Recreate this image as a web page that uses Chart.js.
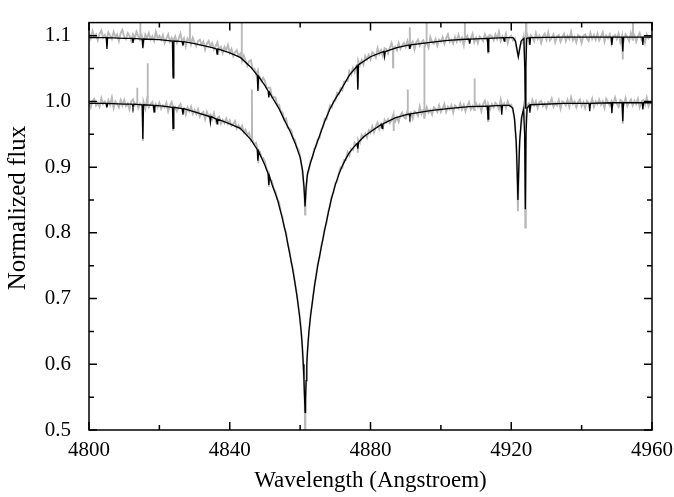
<!DOCTYPE html>
<html>
<head>
<meta charset="utf-8">
<script src="https://cdn.jsdelivr.net/npm/chart.js@4.4.1/dist/chart.umd.min.js"></script>
<style>
  html, body { margin: 0; padding: 0; background: #fff; }
  #wrap { width: 674px; height: 497px; }
</style>
</head>
<body>
<div id="wrap"><canvas id="chart"></canvas></div>
<script>
// axis ticks
const xMajor = [4800, 4840, 4880, 4920, 4960];
const xMinor = [4820, 4860, 4900, 4940];
const yMajor = [0.5, 0.6, 0.7, 0.8, 0.9, 1.0, 1.1];
const yMinor = [0.55, 0.65, 0.75, 0.85, 0.95, 1.05];

// model spectrum, upper (shifted by +0.1)
const upperModelWave = [4800, 4804.9, 4805.1, 4805.3, 4810, 4812.3, 4812.5, 4812.7, 4815.1, 4815.3, 4815.5, 4820,
  4823.7, 4823.9, 4824.1, 4826.5, 4826.7, 4826.9, 4830, 4835, 4836.2, 4836.4, 4836.6, 4840, 4843, 4846,
  4847.8, 4848.0, 4848.2, 4850, 4850.9, 4851.1, 4851.3, 4852, 4854, 4855.5, 4857.2, 4858.7, 4860, 4860.7,
  4861.1, 4861.4, 4861.7, 4862.1, 4862.8, 4864.2, 4865.6, 4867, 4868.5, 4870, 4871.3, 4874, 4876.2, 4876.4,
  4876.6, 4880, 4883.8, 4884.0, 4884.2, 4887.5, 4891.0, 4891.2, 4891.4, 4897, 4902, 4908.0, 4908.2, 4908.4,
  4913.2, 4913.4, 4913.6, 4917.8, 4918.0, 4918.2, 4920.5, 4921.2, 4921.6, 4922.0, 4922.4, 4922.8, 4923.6,
  4923.85, 4924.0, 4924.15, 4924.4, 4925.1, 4925.3, 4925.5, 4935, 4948.4, 4948.6, 4948.8, 4951.5, 4951.7,
  4951.9, 4957.2, 4957.4, 4957.6, 4960];
const upperModelFlux = [1.097, 1.097, 1.080, 1.097, 1.096, 1.096, 1.089, 1.096, 1.095, 1.081, 1.095, 1.094,
  1.092, 1.036, 1.092, 1.091, 1.085, 1.091, 1.088, 1.082, 1.080, 1.072, 1.080, 1.074, 1.067, 1.052,
  1.040, 1.016, 1.038, 1.024, 1.016, 1.006, 1.014, 1.007, 0.989, 0.972, 0.954, 0.935, 0.915, 0.895,
  0.870, 0.840, 0.870, 0.890, 0.904, 0.928, 0.949, 0.970, 0.989, 1.004, 1.015, 1.040, 1.054, 1.018,
  1.056, 1.068, 1.076, 1.068, 1.076, 1.082, 1.086, 1.080, 1.086, 1.090, 1.093, 1.095, 1.088, 1.095,
  1.096, 1.076, 1.096, 1.097, 1.092, 1.097, 1.097, 1.092, 1.080, 1.068, 1.080, 1.092, 1.096,
  1.050, 0.990, 1.050, 1.096, 1.097, 1.086, 1.097, 1.098, 1.098, 1.086, 1.098, 1.098, 1.076,
  1.098, 1.098, 1.086, 1.098, 1.098];

// model spectrum, lower
const lowerModelWave = [4800, 4804.9, 4805.1, 4805.3, 4810, 4812.3, 4812.5, 4812.7, 4815.1, 4815.3, 4815.5,
  4818.3, 4818.5, 4818.7, 4821, 4823.7, 4823.9, 4824.1, 4826.5, 4826.7, 4826.9, 4830, 4834.3, 4834.5, 4834.7,
  4836.2, 4836.4, 4836.6, 4840, 4843, 4846, 4847.8, 4848.0, 4848.2, 4850, 4850.9, 4851.1, 4851.3, 4852,
  4853.6, 4854.8, 4855.9, 4856.8, 4857.7, 4858.5, 4859.2, 4859.8, 4860.3, 4860.65, 4860.9, 4861.1, 4861.25,
  4861.4, 4861.55, 4861.7, 4861.9, 4862.15, 4862.5, 4863.0, 4863.6, 4864.25, 4865.0, 4865.9, 4866.8, 4867.8,
  4868.8, 4870, 4871, 4872, 4873, 4874, 4875, 4876.2, 4876.4, 4876.6, 4878, 4880,
  4883.1, 4883.3, 4883.5, 4887, 4891.0, 4891.2, 4891.4, 4897, 4902, 4908, 4913.2, 4913.4, 4913.6, 4917.1,
  4917.3, 4917.5, 4919.5, 4920.4, 4920.9, 4921.4, 4921.7, 4921.9, 4922.1, 4922.4, 4922.9, 4923.5, 4923.8,
  4924.0, 4924.2, 4924.5, 4925.1, 4925.3, 4925.5, 4935, 4942.1, 4942.3, 4942.5, 4948.4, 4948.6, 4948.8,
  4951.5, 4951.7, 4951.9, 4957.2, 4957.4, 4957.6, 4960];
const lowerModelFlux = [0.997, 0.997, 0.991, 0.997, 0.996, 0.996, 0.991, 0.996, 0.995, 0.943, 0.995,
  0.994, 0.984, 0.994, 0.993, 0.991, 0.959, 0.991, 0.989, 0.980, 0.989, 0.984, 0.977, 0.968, 0.977,
  0.973, 0.966, 0.973, 0.966, 0.959, 0.942, 0.927, 0.910, 0.924, 0.903, 0.890, 0.873, 0.886, 0.874,
  0.850, 0.825, 0.800, 0.775, 0.750, 0.725, 0.700, 0.675, 0.650, 0.625, 0.600, 0.575, 0.550,
  0.527, 0.550, 0.575, 0.600, 0.625, 0.650, 0.675, 0.700, 0.725, 0.750, 0.775, 0.800, 0.825,
  0.850, 0.873, 0.889, 0.902, 0.913, 0.922, 0.929, 0.936, 0.928, 0.938, 0.946, 0.954,
  0.965, 0.959, 0.966, 0.975, 0.981, 0.976, 0.981, 0.986, 0.989, 0.992, 0.993, 0.973, 0.993, 0.994,
  0.980, 0.994, 0.994, 0.990, 0.975, 0.940, 0.890, 0.850, 0.890, 0.940, 0.975, 0.988, 0.950,
  0.836, 0.950, 0.990, 0.994, 0.983, 0.995, 0.997, 0.997, 0.985, 0.997, 0.998, 0.982, 0.998,
  0.998, 0.970, 0.998, 0.998, 0.988, 0.998, 0.998];

// observed spectra, one value every 0.5 Angstroem from 4800 to 4960
const obsUpper = [
  1.104, 1.096, 1.107, 1.098, 1.102, 1.093, 1.103, 1.108, 1.097, 1.101,
  1.094, 1.105, 1.100, 1.095, 1.106, 1.098, 1.102, 1.092, 1.104, 1.109,
  1.098, 1.095, 1.104, 1.100, 1.092, 1.102, 1.096, 1.106, 1.099, 1.094,
  1.100, 1.089, 1.102, 1.097, 1.104, 1.094, 1.099, 1.092, 1.106, 1.096,
  1.100, 1.094, 1.101, 1.089, 1.096, 1.102, 1.091, 1.097, 1.092, 1.099,
  1.089, 1.095, 1.103, 1.090, 1.096, 1.084, 1.096, 1.092, 1.087, 1.097,
  1.090, 1.084, 1.092, 1.094, 1.086, 1.091, 1.079, 1.088, 1.092, 1.084,
  1.089, 1.079, 1.084, 1.090, 1.078, 1.083, 1.074, 1.083, 1.078, 1.086,
  1.074, 1.080, 1.069, 1.075, 1.078, 1.069, 1.073, 1.062, 1.070, 1.062,
  1.054, 1.061, 1.063, 1.050, 1.050, 1.041, 1.047, 1.038, 1.031, 1.036,
  1.031, 1.020, 1.021, 1.021, 1.006, 1.007, 1.006, 0.995, 0.995, 0.985,
  0.983, 0.972, 0.974, 0.960, 0.959, 0.956, 0.944, 0.942, 0.931, 0.927,
  0.917, 0.899, 0.874, 0.845, 0.887, 0.896, 0.910, 0.914, 0.928, 0.931,
  0.943, 0.944, 0.957, 0.961, 0.974, 0.973, 0.984, 0.994, 0.991, 1.001,
  1.001, 1.013, 1.011, 1.020, 1.017, 1.030, 1.031, 1.031, 1.046, 1.041,
  1.051, 1.045, 1.055, 1.062, 1.055, 1.063, 1.056, 1.069, 1.064, 1.071,
  1.064, 1.075, 1.072, 1.067, 1.081, 1.072, 1.078, 1.069, 1.081, 1.080,
  1.073, 1.082, 1.089, 1.079, 1.083, 1.078, 1.089, 1.080, 1.085, 1.089,
  1.083, 1.092, 1.081, 1.087, 1.091, 1.079, 1.090, 1.094, 1.085, 1.090,
  1.093, 1.085, 1.091, 1.082, 1.098, 1.090, 1.088, 1.095, 1.085, 1.094,
  1.091, 1.098, 1.088, 1.096, 1.102, 1.091, 1.094, 1.088, 1.098, 1.091,
  1.101, 1.092, 1.097, 1.086, 1.096, 1.100, 1.091, 1.096, 1.103, 1.090,
  1.097, 1.089, 1.099, 1.096, 1.092, 1.102, 1.095, 1.089, 1.101, 1.099,
  1.093, 1.102, 1.095, 1.106, 1.092, 1.099, 1.094, 1.103, 1.089, 1.098,
  1.100, 1.093, 1.096, 1.081, 1.069, 1.085, 1.089, 1.099, 0.995, 1.102,
  1.091, 1.101, 1.098, 1.092, 1.104, 1.095, 1.100, 1.089, 1.099, 1.103,
  1.094, 1.105, 1.093, 1.097, 1.102, 1.090, 1.099, 1.101, 1.091, 1.098,
  1.103, 1.092, 1.100, 1.095, 1.106, 1.093, 1.098, 1.090, 1.101, 1.099,
  1.089, 1.100, 1.102, 1.096, 1.092, 1.104, 1.095, 1.101, 1.094, 1.103,
  1.093, 1.099, 1.105, 1.091, 1.100, 1.096, 1.102, 1.088, 1.099, 1.101,
  1.095, 1.103, 1.090, 1.100, 1.093, 1.102, 1.098, 1.092, 1.104, 1.094,
  1.101, 1.091, 1.099, 1.104, 1.094, 1.098, 1.089, 1.102, 1.096, 1.100,
  1.098];
const obsLower = [
  0.999, 0.991, 1.001, 1.004, 0.994, 0.998, 0.992, 1.005, 0.996, 1.000,
  0.993, 1.002, 0.995, 1.006, 0.990, 1.000, 0.996, 0.991, 1.002, 0.994,
  1.002, 0.993, 0.997, 0.988, 1.000, 1.003, 0.994, 0.998, 0.990, 0.997,
  0.994, 0.999, 0.989, 1.004, 0.991, 0.996, 0.999, 0.986, 0.996, 0.991,
  0.998, 0.989, 0.994, 0.991, 0.998, 0.985, 0.994, 0.999, 0.987, 0.991,
  0.985, 0.992, 0.996, 0.986, 0.989, 0.980, 0.991, 0.985, 0.992, 0.981,
  0.987, 0.981, 0.988, 0.977, 0.982, 0.984, 0.973, 0.984, 0.977, 0.980,
  0.973, 0.982, 0.970, 0.975, 0.977, 0.966, 0.972, 0.967, 0.974, 0.966,
  0.971, 0.963, 0.966, 0.970, 0.959, 0.964, 0.958, 0.963, 0.953, 0.957,
  0.949, 0.952, 0.941, 0.943, 0.935, 0.937, 0.924, 0.924, 0.915, 0.914,
  0.908, 0.896, 0.893, 0.881, 0.879, 0.867, 0.863, 0.851, 0.847, 0.833,
  0.824, 0.808, 0.801, 0.783, 0.772, 0.754, 0.744, 0.725, 0.710, 0.688,
  0.669, 0.636, 0.585, 0.538, 0.614, 0.648, 0.677, 0.694, 0.718, 0.732,
  0.752, 0.762, 0.781, 0.790, 0.807, 0.815, 0.833, 0.841, 0.856, 0.862,
  0.876, 0.878, 0.891, 0.900, 0.899, 0.911, 0.911, 0.923, 0.918, 0.928,
  0.926, 0.937, 0.933, 0.942, 0.937, 0.949, 0.945, 0.951, 0.945, 0.956,
  0.952, 0.962, 0.953, 0.962, 0.968, 0.958, 0.966, 0.959, 0.972, 0.968,
  0.973, 0.967, 0.972, 0.980, 0.969, 0.976, 0.969, 0.979, 0.983, 0.976,
  0.974, 0.986, 0.979, 0.983, 0.974, 0.985, 0.983, 0.978, 0.992, 0.981,
  0.987, 0.980, 0.991, 0.983, 0.987, 0.980, 0.991, 0.989, 0.984, 0.994,
  0.984, 0.990, 0.996, 0.984, 0.992, 0.988, 0.994, 0.983, 0.994, 0.991,
  0.989, 0.997, 0.988, 0.995, 0.985, 0.993, 0.999, 0.988, 0.993, 0.987,
  0.997, 0.991, 0.995, 0.985, 0.996, 1.001, 0.990, 0.995, 0.988, 0.996,
  0.991, 0.998, 0.995, 0.988, 1.003, 0.992, 0.997, 0.990, 1.000, 0.993,
  0.995, 0.987, 0.971, 0.927, 0.863, 0.947, 0.972, 0.990, 0.808, 0.993,
  0.997, 0.990, 1.002, 0.994, 1.000, 0.990, 0.999, 1.001, 0.993, 0.997,
  0.990, 0.999, 0.996, 1.004, 0.992, 0.998, 0.994, 1.002, 0.989, 1.000,
  0.998, 0.994, 1.002, 0.992, 1.006, 0.996, 1.000, 0.991, 0.999, 1.003,
  0.993, 0.999, 0.990, 1.001, 0.998, 0.995, 1.004, 0.992, 1.000, 0.996,
  1.003, 0.995, 1.000, 0.990, 1.004, 0.999, 0.994, 1.001, 0.996, 1.006,
  0.997, 0.992, 1.002, 1.000, 0.995, 1.005, 0.993, 0.999, 1.003, 0.994,
  1.001, 0.996, 1.004, 0.991, 1.000, 1.002, 0.995, 1.006, 0.993, 0.999,
  1.000];

// spikes, line cores and narrow dips in the observed spectra
const upperExtraWave = [4814.55, 4814.6, 4814.65, 4823.85, 4823.9, 4823.95, 4828.65, 4828.7, 4828.75,
  4843.35, 4843.4, 4843.45, 4848.05, 4848.1, 4848.15, 4861.25, 4861.4, 4876.35, 4876.4, 4876.45,
  4886.35, 4886.4, 4886.45, 4891.15, 4891.2, 4891.25, 4895.85, 4895.9, 4895.95, 4906.75, 4906.8, 4906.85,
  4913.35, 4913.4, 4913.45, 4923.85, 4924.1, 4924.2, 4924.3, 4951.65, 4951.7, 4951.75,
  4954.55, 4954.6, 4954.65];
const upperExtraFlux = [1.097, 1.125, 1.096, 1.093, 1.040, 1.092, 1.095, 1.125, 1.094,
  1.068, 1.125, 1.066, 1.045, 1.018, 1.040, 0.858, 0.828, 1.056, 1.020, 1.055,
  1.081, 1.052, 1.080, 1.085, 1.113, 1.084, 1.090, 1.125, 1.089, 1.097, 1.125, 1.096,
  1.098, 1.074, 1.097, 1.060, 1.060, 1.125, 1.097, 1.097, 1.064, 1.098,
  1.100, 1.122, 1.099];
const lowerExtraWave = [4813.65, 4813.7, 4813.75, 4815.25, 4815.3, 4815.35, 4816.65, 4816.7, 4816.75,
  4823.85, 4823.9, 4823.95, 4846.25, 4846.3, 4846.35, 4848.05, 4848.1, 4848.15, 4851.05, 4851.1, 4851.15,
  4861.3, 4861.4, 4876.35, 4876.4, 4876.45, 4886.55, 4886.6, 4886.65, 4890.55, 4890.6, 4890.65,
  4895.2, 4895.25, 4895.3, 4895.35, 4909.55, 4909.6, 4909.65, 4913.35, 4913.4, 4913.45,
  4921.9, 4922.3, 4923.85, 4924.15, 4951.65, 4951.7, 4951.75];
const lowerExtraFlux = [0.996, 1.021, 0.995, 0.996, 0.940, 0.995, 0.997, 1.058, 0.995,
  0.992, 0.957, 0.991, 0.944, 1.018, 0.943, 0.928, 0.906, 0.925, 0.893, 0.870, 0.889,
  0.546, 0.498, 0.936, 0.922, 0.937, 0.974, 0.955, 0.972, 0.982, 1.018, 0.980,
  0.986, 0.975, 1.085, 0.987, 0.995, 1.035, 0.993, 0.994, 0.970, 0.995,
  0.833, 0.930, 0.965, 0.970, 0.996, 0.966, 0.997];

const obsWave = obsUpper.map((v, i) => 4800 + i * 0.5);

const pairs = (xs, ys) => xs.map((x, i) => ({ x: x, y: ys[i] }));
const merged = (xs, ys, ex, ey) => pairs(xs, ys).concat(pairs(ex, ey)).sort((a, b) => a.x - b.x);

const serif = "'Liberation Serif', 'Times New Roman', serif";
const yTitle = "Normalized flux";

const frameTicks = {
    id: "frameTicks",
    afterDraw(chart) {
        const { ctx, chartArea: a, scales } = chart;
        const x = scales.x, y = scales.y;
        ctx.save();
        ctx.strokeStyle = "#000";
        ctx.lineWidth = 1.5;
        ctx.beginPath();
        const xt = (vals, len) => vals.forEach(v => {
            const p = x.getPixelForValue(v);
            ctx.moveTo(p, a.bottom); ctx.lineTo(p, a.bottom - len);
            ctx.moveTo(p, a.top); ctx.lineTo(p, a.top + len);
        });
        const yt = (vals, len) => vals.forEach(v => {
            const p = y.getPixelForValue(v);
            ctx.moveTo(a.left, p); ctx.lineTo(a.left + len, p);
            ctx.moveTo(a.right, p); ctx.lineTo(a.right - len, p);
        });
        xt(xMajor, 8); xt(xMinor, 5);
        yt(yMajor, 8); yt(yMinor, 5);
        ctx.stroke();
        ctx.strokeRect(a.left, a.top, a.right - a.left, a.bottom - a.top);

        // y axis title, a little larger and higher than the built-in one
        ctx.translate(18, 208);
        ctx.rotate(-Math.PI / 2);
        ctx.fillStyle = "#000";
        ctx.font = "25px " + serif;
        ctx.textAlign = "center";
        ctx.textBaseline = "middle";
        ctx.fillText(yTitle, 0, 0);
        ctx.restore();
    }
};

const grey = "#b9b9b9";
const data = {
    datasets: [
        { label: "model upper", data: pairs(upperModelWave, upperModelFlux), borderColor: "#000", borderWidth: 1.3, order: 1 },
        { label: "model lower", data: pairs(lowerModelWave, lowerModelFlux), borderColor: "#000", borderWidth: 1.3, order: 1 },
        { label: "observed upper", data: merged(obsWave, obsUpper, upperExtraWave, upperExtraFlux), borderColor: grey, borderWidth: 1.9, order: 2 },
        { label: "observed lower", data: merged(obsWave, obsLower, lowerExtraWave, lowerExtraFlux), borderColor: grey, borderWidth: 1.9, order: 2 },
    ],
};

const config = {
    type: "line",
    data: data,
    options: {
        responsive: true,
        maintainAspectRatio: false,
        animation: false,
        layout: { padding: { top: 10, right: 22, left: 0, bottom: 0 } },
        elements: { point: { radius: 0 }, line: { tension: 0, fill: false } },
        plugins: { legend: { display: false }, tooltip: { enabled: false } },
        scales: {
            x: {
                type: "linear", min: 4800, max: 4960,
                grid: { display: false }, border: { display: false },
                afterBuildTicks: s => { s.ticks = xMajor.map(v => ({ value: v })); },
                afterFit: s => { s.height = 67; },
                ticks: { color: "#000", padding: 0, maxRotation: 0, font: { family: serif, size: 21 }, callback: v => String(v) },
                title: { display: true, text: "Wavelength (Angstroem)", color: "#000", padding: { top: 0, bottom: 2 }, font: { family: serif, size: 23 } },
            },
            y: {
                type: "linear", min: 0.5, max: 1.12,
                grid: { display: false }, border: { display: false },
                afterBuildTicks: s => { s.ticks = yMajor.map(v => ({ value: v })); },
                afterFit: s => { s.width = 89; },
                ticks: { color: "#000", padding: 10, font: { family: serif, size: 21 }, callback: v => v.toFixed(1) },
                title: { display: false },
            },
        },
    },
    plugins: [frameTicks],
};

const myChart = new Chart(document.getElementById("chart"), config);
</script>
</body>
</html>
